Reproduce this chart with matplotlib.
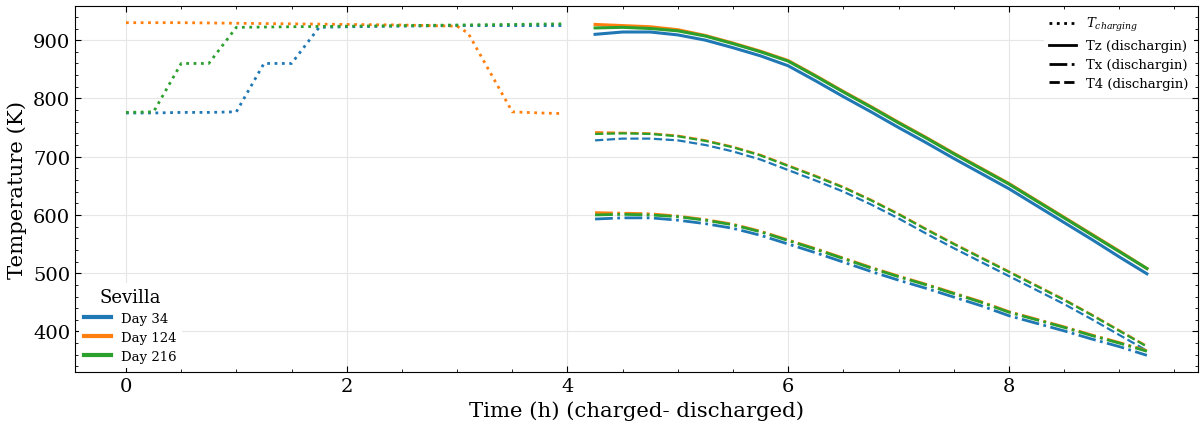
import matplotlib
matplotlib.use("Agg")
import matplotlib.pyplot as plt
from matplotlib.lines import Line2D
from matplotlib.ticker import MultipleLocator

# charging phase (dotted)
t_ch_34 = [0, 0.25, 0.5, 0.75, 1.0, 1.25, 1.5, 1.75, 2.0, 2.5, 3.0, 3.5, 3.96]
T_ch_34 = [775, 775, 776, 776, 777, 860, 860, 922, 923, 924, 925, 925, 925]
t_ch_124 = [0, 0.5, 1.0, 1.5, 2.0, 2.5, 3.0, 3.1, 3.5, 3.75, 3.96]
T_ch_124 = [930, 930, 929, 928, 927, 926, 924, 912, 777, 775, 774]
t_ch_216 = [0, 0.25, 0.5, 0.75, 1.0, 1.5, 2.0, 2.5, 3.0, 3.5, 3.96]
T_ch_216 = [776, 777, 860, 860, 922, 923, 924, 925, 926, 927, 928]

# discharging phase
t_dis = [4.25, 4.5, 4.75, 5.0, 5.25, 5.5, 5.75, 6.0, 6.25, 6.5, 6.75, 7.0,
         7.25, 7.5, 7.75, 8.0, 8.25, 8.5, 8.75, 9.0, 9.25]

Tz_34 = [910, 914, 914, 909, 900, 887, 873, 856, 830, 803, 777, 750,
         724, 697, 671, 645, 616, 587, 558, 528, 499]
Tz_124 = [927, 925, 923, 918, 908, 895, 881, 865, 839, 812, 786, 759,
          733, 706, 680, 654, 625, 596, 567, 538, 508]
Tz_216 = [921, 922, 920, 916, 907, 894, 880, 864, 838, 811, 785, 758,
          732, 705, 679, 653, 624, 595, 566, 537, 508]

T4_34 = [728, 731, 731, 728, 720, 709, 695, 677, 659, 640, 618, 594,
         568, 543, 519, 495, 471, 447, 421, 394, 367]
T4_124 = [742, 741, 740, 736, 728, 717, 703, 685, 667, 648, 626, 602,
          576, 551, 527, 503, 479, 455, 429, 402, 375]
T4_216 = [739, 740, 739, 735, 727, 716, 702, 684, 666, 647, 625, 601,
          575, 550, 526, 502, 478, 454, 428, 401, 374]

Tx_34 = [593, 595, 595, 591, 585, 577, 565, 550, 535, 519, 503, 488,
         474, 459, 444, 427, 414, 401, 387, 374, 359]
Tx_124 = [604, 603, 602, 598, 592, 584, 572, 557, 542, 526, 510, 495,
          481, 466, 451, 434, 421, 408, 394, 381, 367]
Tx_216 = [600, 601, 600, 597, 591, 583, 571, 556, 541, 525, 509, 494,
          480, 465, 450, 433, 420, 407, 393, 380, 366]

days = ["Day 34", "Day 124", "Day 216"]
colors = ["#1f77b4", "#ff7f0e", "#2ca02c"]

plt.rcParams['font.family'] = 'DejaVu Serif'
plt.rcParams['mathtext.fontset'] = 'dejavuserif'

fig = plt.figure(figsize=(12.03, 4.27), dpi=100)
ax = fig.add_axes([0.0623, 0.1265, 0.9335, 0.857])

charging = [(t_ch_34, T_ch_34), (t_ch_124, T_ch_124), (t_ch_216, T_ch_216)]
tz = [Tz_34, Tz_124, Tz_216]
t4 = [T4_34, T4_124, T4_216]
tx = [Tx_34, Tx_124, Tx_216]

for i, c in enumerate(colors):
    ax.plot(charging[i][0], charging[i][1], ':', color=c, lw=2)
    ax.plot(t_dis, tz[i], '-', color=c, lw=2.2)
    ax.plot(t_dis, tx[i], '-.', color=c, lw=2)
    ax.plot(t_dis, t4[i], '--', color=c, lw=1.6)

ax.set_xlabel("Time (h) (charged- discharged)", fontsize=15.3)
ax.set_ylabel("Temperature (K)", fontsize=15.3)
ax.tick_params(labelsize=14)
ax.tick_params(which='both', direction='in', top=True, right=True)
ax.tick_params(which='major', length=4)
ax.tick_params(which='minor', length=2)
ax.xaxis.set_major_locator(MultipleLocator(2))
ax.xaxis.set_minor_locator(MultipleLocator(0.5))
ax.yaxis.set_major_locator(MultipleLocator(100))
ax.yaxis.set_minor_locator(MultipleLocator(20))
ax.grid(which='major', color='#e6e6e6', linewidth=0.8)
ax.set_axisbelow(True)

style_handles = [
    Line2D([], [], color='black', ls=':', lw=2),
    Line2D([], [], color='black', ls='-', lw=2),
    Line2D([], [], color='black', ls='-.', lw=2),
    Line2D([], [], color='black', ls='--', lw=2),
]
style_labels = ["$T_{charging}$", "Tz (dischargin)", "Tx (dischargin)", "T4 (dischargin)"]
leg1 = ax.legend(style_handles, style_labels, loc='upper right', fontsize=9.5,
                 frameon=True, edgecolor='none', facecolor='white', framealpha=1,
                 handlelength=2, borderaxespad=0.3, labelspacing=0.45)
ax.add_artist(leg1)

day_handles = [Line2D([], [], color=c, lw=3) for c in colors]
ax.legend(day_handles, days, loc='lower left', title="Sevilla", fontsize=9.5,
          title_fontsize=13, frameon=True, edgecolor='none', facecolor='white',
          framealpha=1, handlelength=2, borderaxespad=0.3, labelspacing=0.45)

fig.savefig("out.png", dpi=100)
